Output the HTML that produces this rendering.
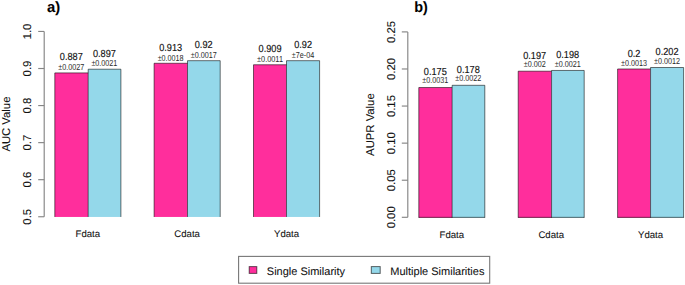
<!DOCTYPE html><html><head><meta charset="utf-8"><style>html,body{margin:0;padding:0;background:#fff;}svg{display:block;}text{font-family:"Liberation Sans", sans-serif;stroke:#111;stroke-width:0.08px;}</style></head><body>
<svg width="685" height="285" viewBox="0 0 685 285" text-rendering="geometricPrecision">
<rect width="685" height="285" fill="#fff"/>
<line x1="44.2" y1="31.45" x2="44.2" y2="216.75" stroke="#858585" stroke-width="1.15"/>
<line x1="38.2" y1="31.45" x2="44.2" y2="31.45" stroke="#858585" stroke-width="1.15"/>
<text transform="translate(30.95,31.45) rotate(-90)" text-anchor="middle" font-size="11.35" fill="#111">1.0</text>
<line x1="38.2" y1="68.51" x2="44.2" y2="68.51" stroke="#858585" stroke-width="1.15"/>
<text transform="translate(30.95,68.51) rotate(-90)" text-anchor="middle" font-size="11.35" fill="#111">0.9</text>
<line x1="38.2" y1="105.57" x2="44.2" y2="105.57" stroke="#858585" stroke-width="1.15"/>
<text transform="translate(30.95,105.57) rotate(-90)" text-anchor="middle" font-size="11.35" fill="#111">0.8</text>
<line x1="38.2" y1="142.63" x2="44.2" y2="142.63" stroke="#858585" stroke-width="1.15"/>
<text transform="translate(30.95,142.63) rotate(-90)" text-anchor="middle" font-size="11.35" fill="#111">0.7</text>
<line x1="38.2" y1="179.69" x2="44.2" y2="179.69" stroke="#858585" stroke-width="1.15"/>
<text transform="translate(30.95,179.69) rotate(-90)" text-anchor="middle" font-size="11.35" fill="#111">0.6</text>
<line x1="38.2" y1="216.75" x2="44.2" y2="216.75" stroke="#858585" stroke-width="1.15"/>
<text transform="translate(30.95,216.75) rotate(-90)" text-anchor="middle" font-size="11.35" fill="#111">0.5</text>
<text transform="translate(9.5,124.10) rotate(-90)" text-anchor="middle" font-size="11.3" fill="#111">AUC Value</text>
<rect x="54.80" y="72.92" width="33.40" height="144.03" fill="#FF2E9C"/>
<rect x="88.20" y="69.21" width="32.70" height="147.74" fill="#94D8EA"/>
<path d="M54.80 216.95V72.92H88.20M88.20 69.21H120.90V216.95" fill="none" stroke="#000" stroke-opacity="0.55" stroke-width="1"/>
<path d="M88.20 216.95V69.21" fill="none" stroke="#000" stroke-opacity="0.55" stroke-width="1"/>
<text x="71.32" y="60.12" text-anchor="middle" font-size="10.2" textLength="22.97" lengthAdjust="spacingAndGlyphs" fill="#111" style="stroke-width:0.16px">0.887</text>
<text x="71.32" y="69.82" text-anchor="middle" font-size="8.7" textLength="25.98" lengthAdjust="spacingAndGlyphs" fill="#2a2a2a" style="stroke-width:0">&#177;0.0027</text>
<text x="104.38" y="57.11" text-anchor="middle" font-size="10.2" textLength="22.97" lengthAdjust="spacingAndGlyphs" fill="#111" style="stroke-width:0.16px">0.897</text>
<text x="104.38" y="66.33" text-anchor="middle" font-size="8.7" textLength="25.98" lengthAdjust="spacingAndGlyphs" fill="#2a2a2a" style="stroke-width:0">&#177;0.0021</text>
<text x="87.85" y="237.0" text-anchor="middle" font-size="9.6" fill="#111">Fdata</text>
<rect x="154.10" y="63.28" width="33.40" height="153.67" fill="#FF2E9C"/>
<rect x="187.50" y="60.68" width="32.70" height="156.27" fill="#94D8EA"/>
<path d="M154.10 216.95V63.28H187.50M187.50 60.68H220.20V216.95" fill="none" stroke="#000" stroke-opacity="0.55" stroke-width="1"/>
<path d="M187.50 216.95V60.68" fill="none" stroke="#000" stroke-opacity="0.55" stroke-width="1"/>
<text x="170.62" y="50.88" text-anchor="middle" font-size="10.2" textLength="22.97" lengthAdjust="spacingAndGlyphs" fill="#111" style="stroke-width:0.16px">0.913</text>
<text x="170.62" y="60.51" text-anchor="middle" font-size="8.7" textLength="25.98" lengthAdjust="spacingAndGlyphs" fill="#2a2a2a" style="stroke-width:0">&#177;0.0018</text>
<text x="203.67" y="47.88" text-anchor="middle" font-size="10.2" textLength="17.86" lengthAdjust="spacingAndGlyphs" fill="#111" style="stroke-width:0.16px">0.92</text>
<text x="203.67" y="57.95" text-anchor="middle" font-size="8.7" textLength="25.98" lengthAdjust="spacingAndGlyphs" fill="#2a2a2a" style="stroke-width:0">&#177;0.0017</text>
<text x="187.15" y="237.0" text-anchor="middle" font-size="9.6" fill="#111">Cdata</text>
<rect x="253.50" y="64.76" width="33.00" height="152.19" fill="#FF2E9C"/>
<rect x="286.50" y="60.68" width="33.10" height="156.27" fill="#94D8EA"/>
<path d="M253.50 216.95V64.76H286.50M286.50 60.68H319.60V216.95" fill="none" stroke="#000" stroke-opacity="0.55" stroke-width="1"/>
<path d="M286.50 216.95V60.68" fill="none" stroke="#000" stroke-opacity="0.55" stroke-width="1"/>
<text x="270.02" y="51.96" text-anchor="middle" font-size="10.2" textLength="22.97" lengthAdjust="spacingAndGlyphs" fill="#111" style="stroke-width:0.16px">0.909</text>
<text x="270.02" y="62.25" text-anchor="middle" font-size="8.7" textLength="25.98" lengthAdjust="spacingAndGlyphs" fill="#2a2a2a" style="stroke-width:0">&#177;0.0011</text>
<text x="303.07" y="48.08" text-anchor="middle" font-size="10.2" textLength="17.86" lengthAdjust="spacingAndGlyphs" fill="#111" style="stroke-width:0.16px">0.92</text>
<text x="303.07" y="58.32" text-anchor="middle" font-size="8.7" textLength="22.41" lengthAdjust="spacingAndGlyphs" fill="#2a2a2a" style="stroke-width:0">&#177;7e-04</text>
<text x="286.55" y="237.0" text-anchor="middle" font-size="9.6" fill="#111">Ydata</text>
<text x="46.9" y="11.8" font-size="15" font-weight="bold" textLength="13.2" lengthAdjust="spacingAndGlyphs" fill="#000">a)</text>
<line x1="407.8" y1="31.90" x2="407.8" y2="217.30" stroke="#858585" stroke-width="1.15"/>
<line x1="401.8" y1="31.90" x2="407.8" y2="31.90" stroke="#858585" stroke-width="1.15"/>
<text transform="translate(394.9,31.90) rotate(-90)" text-anchor="middle" font-size="11.35" fill="#111">0.25</text>
<line x1="401.8" y1="68.98" x2="407.8" y2="68.98" stroke="#858585" stroke-width="1.15"/>
<text transform="translate(394.9,68.98) rotate(-90)" text-anchor="middle" font-size="11.35" fill="#111">0.20</text>
<line x1="401.8" y1="106.06" x2="407.8" y2="106.06" stroke="#858585" stroke-width="1.15"/>
<text transform="translate(394.9,106.06) rotate(-90)" text-anchor="middle" font-size="11.35" fill="#111">0.15</text>
<line x1="401.8" y1="143.14" x2="407.8" y2="143.14" stroke="#858585" stroke-width="1.15"/>
<text transform="translate(394.9,143.14) rotate(-90)" text-anchor="middle" font-size="11.35" fill="#111">0.10</text>
<line x1="401.8" y1="180.22" x2="407.8" y2="180.22" stroke="#858585" stroke-width="1.15"/>
<text transform="translate(394.9,180.22) rotate(-90)" text-anchor="middle" font-size="11.35" fill="#111">0.05</text>
<line x1="401.8" y1="217.30" x2="407.8" y2="217.30" stroke="#858585" stroke-width="1.15"/>
<text transform="translate(394.9,217.30) rotate(-90)" text-anchor="middle" font-size="11.35" fill="#111">0.00</text>
<text transform="translate(374.0,124.60) rotate(-90)" text-anchor="middle" font-size="11.3" fill="#111">AUPR Value</text>
<rect x="418.80" y="87.52" width="33.35" height="130.23" fill="#FF2E9C"/>
<rect x="452.15" y="85.30" width="32.65" height="132.45" fill="#94D8EA"/>
<path d="M418.80 217.75V87.52H452.15M452.15 85.30H484.80V217.75M418.80 217.35H484.80" fill="none" stroke="#000" stroke-opacity="0.55" stroke-width="1"/>
<path d="M452.15 217.75V85.30" fill="none" stroke="#000" stroke-opacity="0.55" stroke-width="1"/>
<text x="435.30" y="74.82" text-anchor="middle" font-size="10.2" textLength="22.97" lengthAdjust="spacingAndGlyphs" fill="#111" style="stroke-width:0.16px">0.175</text>
<text x="435.30" y="82.92" text-anchor="middle" font-size="8.7" textLength="25.98" lengthAdjust="spacingAndGlyphs" fill="#2a2a2a" style="stroke-width:0">&#177;0.0031</text>
<text x="468.30" y="72.60" text-anchor="middle" font-size="10.2" textLength="22.97" lengthAdjust="spacingAndGlyphs" fill="#111" style="stroke-width:0.16px">0.178</text>
<text x="468.30" y="81.36" text-anchor="middle" font-size="8.7" textLength="25.98" lengthAdjust="spacingAndGlyphs" fill="#2a2a2a" style="stroke-width:0">&#177;0.0022</text>
<text x="451.80" y="237.8" text-anchor="middle" font-size="9.6" fill="#111">Fdata</text>
<rect x="518.20" y="71.20" width="33.35" height="146.55" fill="#FF2E9C"/>
<rect x="551.55" y="70.46" width="32.65" height="147.29" fill="#94D8EA"/>
<path d="M518.20 217.75V71.20H551.55M551.55 70.46H584.20V217.75M518.20 217.35H584.20" fill="none" stroke="#000" stroke-opacity="0.55" stroke-width="1"/>
<path d="M551.55 217.75V70.46" fill="none" stroke="#000" stroke-opacity="0.55" stroke-width="1"/>
<text x="534.70" y="58.70" text-anchor="middle" font-size="10.2" textLength="22.97" lengthAdjust="spacingAndGlyphs" fill="#111" style="stroke-width:0.16px">0.197</text>
<text x="534.70" y="67.42" text-anchor="middle" font-size="8.7" textLength="22.02" lengthAdjust="spacingAndGlyphs" fill="#2a2a2a" style="stroke-width:0">&#177;0.002</text>
<text x="567.70" y="57.86" text-anchor="middle" font-size="10.2" textLength="22.97" lengthAdjust="spacingAndGlyphs" fill="#111" style="stroke-width:0.16px">0.198</text>
<text x="567.70" y="66.61" text-anchor="middle" font-size="8.7" textLength="25.98" lengthAdjust="spacingAndGlyphs" fill="#2a2a2a" style="stroke-width:0">&#177;0.0021</text>
<text x="551.20" y="237.8" text-anchor="middle" font-size="9.6" fill="#111">Cdata</text>
<rect x="617.60" y="68.98" width="32.95" height="148.77" fill="#FF2E9C"/>
<rect x="650.55" y="67.50" width="33.05" height="150.25" fill="#94D8EA"/>
<path d="M617.60 217.75V68.98H650.55M650.55 67.50H683.60V217.75M617.60 217.35H683.60" fill="none" stroke="#000" stroke-opacity="0.55" stroke-width="1"/>
<path d="M650.55 217.75V67.50" fill="none" stroke="#000" stroke-opacity="0.55" stroke-width="1"/>
<text x="634.10" y="57.08" text-anchor="middle" font-size="10.2" textLength="12.76" lengthAdjust="spacingAndGlyphs" fill="#111" style="stroke-width:0.16px">0.2</text>
<text x="634.10" y="65.72" text-anchor="middle" font-size="8.7" textLength="25.98" lengthAdjust="spacingAndGlyphs" fill="#2a2a2a" style="stroke-width:0">&#177;0.0013</text>
<text x="667.10" y="54.90" text-anchor="middle" font-size="10.2" textLength="22.97" lengthAdjust="spacingAndGlyphs" fill="#111" style="stroke-width:0.16px">0.202</text>
<text x="667.10" y="64.31" text-anchor="middle" font-size="8.7" textLength="25.98" lengthAdjust="spacingAndGlyphs" fill="#2a2a2a" style="stroke-width:0">&#177;0.0012</text>
<text x="650.60" y="237.8" text-anchor="middle" font-size="9.6" fill="#111">Ydata</text>
<text x="414.2" y="11.8" font-size="15" font-weight="bold" textLength="13.6" lengthAdjust="spacingAndGlyphs" fill="#000">b)</text>
<rect x="238.6" y="256.4" width="251.1" height="26.8" fill="none" stroke="#777" stroke-width="1.1"/>
<rect x="249.2" y="266.6" width="7.6" height="6.8" fill="#FF2E9C" stroke="#000" stroke-opacity="0.6" stroke-width="1"/>
<rect x="371.3" y="266.6" width="8.9" height="6.8" fill="#94D8EA" stroke="#000" stroke-opacity="0.6" stroke-width="1"/>
<text x="266.8" y="274.5" font-size="11" fill="#111">Single Similarity</text>
<text x="390.3" y="274.5" font-size="11" fill="#111">Multiple Similarities</text>
</svg></body></html>
